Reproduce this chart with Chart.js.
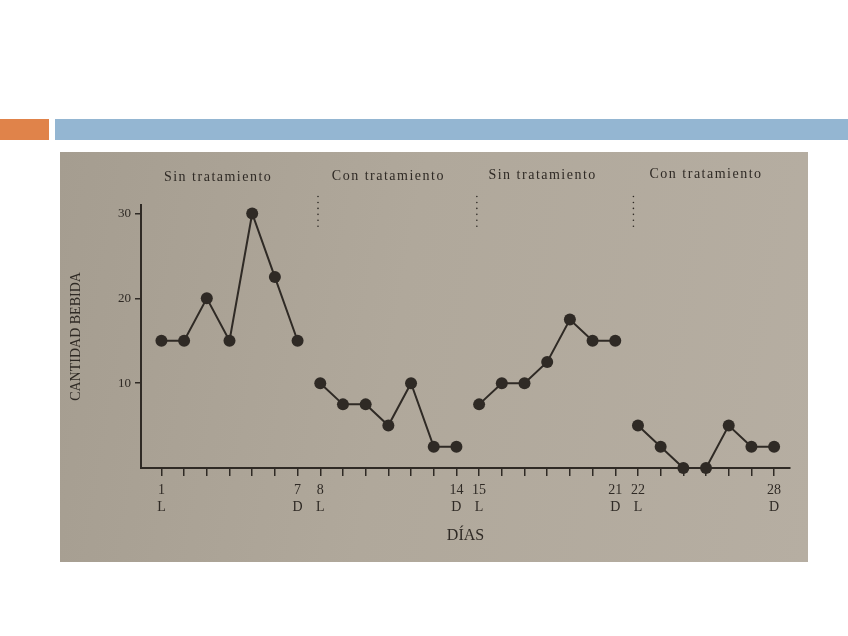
<!DOCTYPE html>
<html>
<head>
<meta charset="utf-8">
<script src="https://cdn.jsdelivr.net/npm/chart.js@4"></script>
<style>
  body { margin: 0; background: #fff; width: 848px; height: 636px; position: relative; overflow: hidden; }
  .bar-o { position: absolute; left: 0; top: 119px; width: 49px; height: 21px; background: #e0834a; }
  .bar-b { position: absolute; left: 55px; top: 119px; width: 793px; height: 21px; background: #94b6d2; }
  .photo { position: absolute; left: 60px; top: 152px; width: 748px; height: 410px;
           background: linear-gradient(100deg, #a59d90 0%, #b0a89b 45%, #b6aea2 100%); }
</style>
</head>
<body>
<div class="bar-o"></div>
<div class="bar-b"></div>
<div class="photo"><canvas id="chart" width="748" height="410"></canvas></div>
<script>
// === Daten ===
const phaseTitles = ["Sin tratamiento", "Con tratamiento", "Sin tratamiento", "Con tratamiento"];
const phaseTitleDay = [3.5, 11, 17.8, 25]; // Tag, über dem die Überschrift steht
const phaseDays = [
  [1, 2, 3, 4, 5, 6, 7],
  [8, 9, 10, 11, 12, 13, 14],
  [15, 16, 17, 18, 19, 20, 21],
  [22, 23, 24, 25, 26, 27, 28],
];
const phaseValues = [
  [15, 15, 20, 15, 30, 22.5, 15],
  [10, 7.5, 7.5, 5, 10, 2.5, 2.5],
  [7.5, 10, 10, 12.5, 17.5, 15, 15],
  [5, 2.5, 0, 0, 5, 2.5, 2.5],
];
const allDays = phaseDays.flat();
const dayLabels = {
  1: ["1", "L"], 7: ["7", "D"], 8: ["8", "L"], 14: ["14", "D"],
  15: ["15", "L"], 21: ["21", "D"], 22: ["22", "L"], 28: ["28", "D"],
};
const yTicks = [10, 20, 30];
const phaseBreaks = [7.9, 14.9, 21.8];

const INK = "#2f2a25";
const SERIF = "'Liberation Serif', 'DejaVu Serif', serif";

// Überschriften und gepunktete Phasenlinien
const phasePlugin = {
  id: "phases",
  afterDraw(chart) {
    const { ctx } = chart;
    const x = chart.scales.x;
    const y = chart.scales.y;
    ctx.save();
    ctx.fillStyle = INK;
    ctx.font = "14px " + SERIF;
    ctx.letterSpacing = "1.5px";
    ctx.textAlign = "center";
    ctx.textBaseline = "middle";
    phaseTitles.forEach((t, i) => {
      ctx.fillText(t, x.getPixelForValue(phaseTitleDay[i]), 25 - i);
    });
    phaseBreaks.forEach((b) => {
      const px = x.getPixelForValue(b);
      for (let v = 32; v >= 27.9; v -= 0.7) {
        ctx.beginPath();
        ctx.arc(px, y.getPixelForValue(v), v < 28.5 ? 1.8 : 0.8, 0, Math.PI * 2);
        ctx.fill();
      }
    });
    ctx.restore();
  },
};

const datasets = phaseDays.map((days, i) => ({
  data: days.map((d, j) => ({ x: d, y: phaseValues[i][j] })),
  borderColor: INK,
  backgroundColor: INK,
  borderWidth: 2,
  pointRadius: 6,
  pointBackgroundColor: INK,
  pointBorderWidth: 0,
  tension: 0,
  clip: false,
}));

new Chart(document.getElementById("chart").getContext("2d"), {
  type: "line",
  data: { datasets },
  options: {
    responsive: false,
    animation: false,
    layout: { padding: { left: 8, right: 18, top: 53, bottom: 10 } },
    plugins: { legend: { display: false }, tooltip: { enabled: false } },
    scales: {
      x: {
        type: "linear",
        min: 0.1,
        max: 28.7,
        afterBuildTicks: (s) => { s.ticks = allDays.map((d) => ({ value: d })); },
        afterFit: (s) => { s.height = 84; },
        border: { display: true, color: INK, width: 2 },
        grid: { drawOnChartArea: false, drawTicks: true, tickLength: 8, color: INK, lineWidth: 1.5 },
        ticks: {
          autoSkip: false,
          maxRotation: 0,
          padding: 6,
          color: INK,
          font: { family: SERIF, size: 14 },
          callback: (v) => dayLabels[v] || "",
        },
        title: {
          display: true,
          text: "DÍAS",
          color: INK,
          font: { family: SERIF, size: 16 },
          padding: { top: 0, bottom: 7 },
        },
      },
      y: {
        min: 0,
        max: 31,
        afterBuildTicks: (s) => { s.ticks = yTicks.map((v) => ({ value: v })); },
        afterFit: (s) => { s.width = 73; },
        border: { display: true, color: INK, width: 2 },
        grid: { drawOnChartArea: false, drawTicks: true, tickLength: 6, color: INK, lineWidth: 1.5 },
        ticks: { color: INK, padding: 4, font: { family: SERIF, size: 13 } },
        title: {
          display: true,
          text: "CANTIDAD BEBIDA",
          color: INK,
          font: { family: SERIF, size: 14 },
          padding: { top: 0, bottom: 4 },
        },
      },
    },
  },
  plugins: [phasePlugin],
});
</script>
</body>
</html>
